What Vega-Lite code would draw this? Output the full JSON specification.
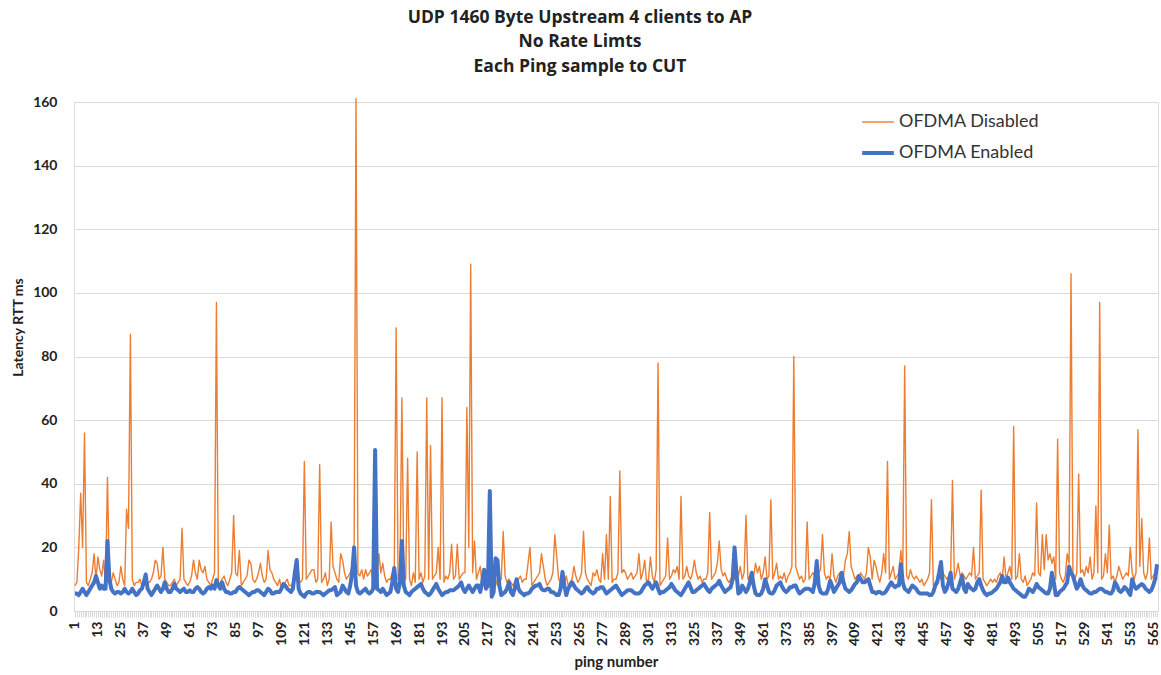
{"$schema":"https://vega.github.io/schema/vega-lite/v6.json","width":1084,"height":509,"autosize":{"type":"none"},"padding":{"left":74,"top":102,"right":3,"bottom":64},"background":"white",
"title":{"text":["UDP 1460 Byte Upstream 4 clients to AP","No Rate Limts","Each Ping sample to CUT"],"font":"Open Sans","fontSize":17.5,"fontWeight":"bold","color":"#222222","lineHeight":24.5,"anchor":"middle","dx":-36,"offset":20},
"data":{"values":[
{"p":1,"d":8,"e":5.5},{"p":2,"d":9,"e":5.5},{"p":3,"d":20,"e":5},{"p":4,"d":37,"e":6},{"p":5,"d":20,"e":7},{"p":6,"d":56,"e":6},{"p":7,"d":9,"e":5},{"p":8,"d":8,"e":6},{"p":9,"d":10,"e":7},{"p":10,"d":12,"e":8},
{"p":11,"d":18,"e":9},{"p":12,"d":10,"e":11},{"p":13,"d":17,"e":9},{"p":14,"d":13,"e":7},{"p":15,"d":11,"e":8},{"p":16,"d":16,"e":7},{"p":17,"d":8,"e":7},{"p":18,"d":42,"e":22},{"p":19,"d":11,"e":10},{"p":20,"d":9,"e":7},
{"p":21,"d":12,"e":6},{"p":22,"d":10,"e":5.5},{"p":23,"d":8,"e":6},{"p":24,"d":9,"e":6},{"p":25,"d":14,"e":5.5},{"p":26,"d":10,"e":6},{"p":27,"d":8,"e":7},{"p":28,"d":32,"e":6},{"p":29,"d":26,"e":5.5},{"p":30,"d":87,"e":6},
{"p":31,"d":10,"e":7},{"p":32,"d":8,"e":6},{"p":33,"d":9,"e":5},{"p":34,"d":9,"e":5.5},{"p":35,"d":10,"e":6.5},{"p":36,"d":8,"e":7},{"p":37,"d":10,"e":9},{"p":38,"d":11,"e":11.5},{"p":39,"d":9,"e":7},{"p":40,"d":9,"e":6},
{"p":41,"d":10,"e":5},{"p":42,"d":12,"e":6},{"p":43,"d":16,"e":7},{"p":44,"d":15,"e":8},{"p":45,"d":10,"e":7},{"p":46,"d":11,"e":6},{"p":47,"d":20,"e":7},{"p":48,"d":10,"e":9},{"p":49,"d":9,"e":7},{"p":50,"d":8,"e":6},
{"p":51,"d":8,"e":6},{"p":52,"d":9,"e":7},{"p":53,"d":10,"e":8.5},{"p":54,"d":8,"e":7},{"p":55,"d":9,"e":6.5},{"p":56,"d":10,"e":6},{"p":57,"d":26,"e":6.5},{"p":58,"d":10,"e":7},{"p":59,"d":9,"e":6},{"p":60,"d":8,"e":6},
{"p":61,"d":9,"e":6.5},{"p":62,"d":11,"e":6},{"p":63,"d":16,"e":6},{"p":64,"d":12,"e":7},{"p":65,"d":10,"e":7.5},{"p":66,"d":16,"e":7},{"p":67,"d":13,"e":6},{"p":68,"d":12,"e":5.5},{"p":69,"d":14,"e":6},{"p":70,"d":10,"e":7},
{"p":71,"d":9,"e":7.5},{"p":72,"d":8,"e":7},{"p":73,"d":10,"e":8},{"p":74,"d":12,"e":7},{"p":75,"d":97,"e":9.7},{"p":76,"d":8,"e":8},{"p":77,"d":9,"e":7},{"p":78,"d":10,"e":9},{"p":79,"d":11,"e":7},{"p":80,"d":9,"e":6},
{"p":81,"d":8,"e":6},{"p":82,"d":10,"e":5.5},{"p":83,"d":12,"e":5.5},{"p":84,"d":30,"e":6},{"p":85,"d":12,"e":6},{"p":86,"d":11,"e":7},{"p":87,"d":19,"e":7.5},{"p":88,"d":8,"e":7},{"p":89,"d":9,"e":6.5},{"p":90,"d":10,"e":6},
{"p":91,"d":11,"e":5.5},{"p":92,"d":16,"e":5},{"p":93,"d":15,"e":5.5},{"p":94,"d":10,"e":6},{"p":95,"d":9,"e":6},{"p":96,"d":10,"e":6.5},{"p":97,"d":12,"e":6.5},{"p":98,"d":15,"e":6},{"p":99,"d":11,"e":5.5},{"p":100,"d":9,"e":5},
{"p":101,"d":10,"e":6},{"p":102,"d":19,"e":7},{"p":103,"d":13,"e":6.5},{"p":104,"d":12,"e":5.5},{"p":105,"d":10,"e":5.5},{"p":106,"d":9,"e":6},{"p":107,"d":8,"e":6},{"p":108,"d":10,"e":6},{"p":109,"d":7,"e":7},{"p":110,"d":8,"e":8.5},
{"p":111,"d":9,"e":8},{"p":112,"d":10,"e":7},{"p":113,"d":8,"e":6.5},{"p":114,"d":8,"e":6},{"p":115,"d":9,"e":7},{"p":116,"d":10,"e":12},{"p":117,"d":10,"e":16},{"p":118,"d":9,"e":7},{"p":119,"d":9,"e":5.5},{"p":120,"d":10,"e":5},
{"p":121,"d":47,"e":4.5},{"p":122,"d":10,"e":5.5},{"p":123,"d":11,"e":6},{"p":124,"d":12,"e":6},{"p":125,"d":13,"e":5.5},{"p":126,"d":13,"e":5.5},{"p":127,"d":9,"e":6},{"p":128,"d":10,"e":6},{"p":129,"d":46,"e":6},{"p":130,"d":9,"e":5.5},
{"p":131,"d":10,"e":5},{"p":132,"d":12,"e":5.5},{"p":133,"d":8,"e":6},{"p":134,"d":10,"e":6.5},{"p":135,"d":28,"e":6.5},{"p":136,"d":14,"e":7},{"p":137,"d":12,"e":7.5},{"p":138,"d":10,"e":5},{"p":139,"d":9,"e":5.5},{"p":140,"d":18,"e":6},
{"p":141,"d":16,"e":8},{"p":142,"d":12,"e":7},{"p":143,"d":10,"e":6},{"p":144,"d":11,"e":5.5},{"p":145,"d":12,"e":8},{"p":146,"d":14,"e":12},{"p":147,"d":16,"e":20},{"p":148,"d":161,"e":8},{"p":149,"d":12,"e":6},{"p":150,"d":11,"e":5.5},
{"p":151,"d":13,"e":6},{"p":152,"d":10,"e":6.5},{"p":153,"d":13,"e":7},{"p":154,"d":11,"e":6},{"p":155,"d":12,"e":5.5},{"p":156,"d":13,"e":6},{"p":157,"d":9,"e":7},{"p":158,"d":10,"e":50.6},{"p":159,"d":12,"e":7},{"p":160,"d":18,"e":6.5},
{"p":161,"d":12,"e":6},{"p":162,"d":15,"e":7},{"p":163,"d":11,"e":6},{"p":164,"d":9,"e":5},{"p":165,"d":10,"e":5.5},{"p":166,"d":10,"e":6},{"p":167,"d":12,"e":9},{"p":168,"d":11,"e":13.5},{"p":169,"d":89,"e":7},{"p":170,"d":10,"e":6},
{"p":171,"d":12,"e":9},{"p":172,"d":67,"e":22},{"p":173,"d":12,"e":8},{"p":174,"d":10,"e":6},{"p":175,"d":48,"e":5.5},{"p":176,"d":10,"e":5},{"p":177,"d":8,"e":6},{"p":178,"d":12,"e":6.5},{"p":179,"d":9,"e":7},{"p":180,"d":50,"e":7.5},
{"p":181,"d":10,"e":8},{"p":182,"d":12,"e":8.5},{"p":183,"d":9,"e":7},{"p":184,"d":11,"e":6},{"p":185,"d":67,"e":5.5},{"p":186,"d":10,"e":5},{"p":187,"d":52,"e":5.5},{"p":188,"d":10,"e":6.5},{"p":189,"d":11,"e":7.5},{"p":190,"d":12,"e":8.5},
{"p":191,"d":20,"e":7},{"p":192,"d":10,"e":6},{"p":193,"d":67,"e":5},{"p":194,"d":9,"e":5.5},{"p":195,"d":11,"e":6},{"p":196,"d":10,"e":6},{"p":197,"d":12,"e":6.5},{"p":198,"d":21,"e":6.5},{"p":199,"d":10,"e":6.5},{"p":200,"d":11,"e":7},
{"p":201,"d":21,"e":7.5},{"p":202,"d":10,"e":8},{"p":203,"d":11,"e":9},{"p":204,"d":12,"e":7},{"p":205,"d":12,"e":6},{"p":206,"d":64,"e":7},{"p":207,"d":20,"e":8},{"p":208,"d":109,"e":7},{"p":209,"d":12,"e":6},{"p":210,"d":22,"e":7},
{"p":211,"d":10,"e":8},{"p":212,"d":12,"e":8},{"p":213,"d":14,"e":6},{"p":214,"d":8,"e":9},{"p":215,"d":9,"e":13},{"p":216,"d":9,"e":7},{"p":217,"d":10,"e":8},{"p":218,"d":8,"e":37.7},{"p":219,"d":9,"e":4.5},{"p":220,"d":9,"e":6},
{"p":221,"d":10,"e":16.6},{"p":222,"d":8,"e":16},{"p":223,"d":9,"e":8},{"p":224,"d":10,"e":5},{"p":225,"d":25,"e":5.5},{"p":226,"d":11,"e":6},{"p":227,"d":9,"e":7},{"p":228,"d":10,"e":9},{"p":229,"d":9,"e":6},{"p":230,"d":8,"e":5},
{"p":231,"d":9,"e":7},{"p":232,"d":10,"e":10},{"p":233,"d":10,"e":7},{"p":234,"d":11,"e":6},{"p":235,"d":9,"e":5.5},{"p":236,"d":10,"e":5},{"p":237,"d":10,"e":5.5},{"p":238,"d":15,"e":5.5},{"p":239,"d":20,"e":6},{"p":240,"d":8,"e":7},
{"p":241,"d":9,"e":7.5},{"p":242,"d":10,"e":8},{"p":243,"d":11,"e":8},{"p":244,"d":12,"e":8.5},{"p":245,"d":18,"e":7},{"p":246,"d":14,"e":6.5},{"p":247,"d":10,"e":6.5},{"p":248,"d":8,"e":7},{"p":249,"d":9,"e":7},{"p":250,"d":10,"e":6},
{"p":251,"d":12,"e":6},{"p":252,"d":24,"e":5.5},{"p":253,"d":17,"e":5},{"p":254,"d":10,"e":5},{"p":255,"d":9,"e":7},{"p":256,"d":10,"e":12.3},{"p":257,"d":9,"e":8},{"p":258,"d":11,"e":5},{"p":259,"d":8,"e":7},{"p":260,"d":9,"e":8},
{"p":261,"d":10,"e":9},{"p":262,"d":14,"e":8},{"p":263,"d":11,"e":7},{"p":264,"d":9,"e":6.5},{"p":265,"d":10,"e":6},{"p":266,"d":12,"e":5.5},{"p":267,"d":25,"e":6},{"p":268,"d":12,"e":7},{"p":269,"d":10,"e":7.5},{"p":270,"d":9,"e":6.5},
{"p":271,"d":8,"e":6},{"p":272,"d":12,"e":5.5},{"p":273,"d":11,"e":6},{"p":274,"d":13,"e":7},{"p":275,"d":10,"e":7},{"p":276,"d":9,"e":7.5},{"p":277,"d":18,"e":7.5},{"p":278,"d":10,"e":6.5},{"p":279,"d":24,"e":5.5},{"p":280,"d":10,"e":6},
{"p":281,"d":36,"e":6.5},{"p":282,"d":9,"e":7},{"p":283,"d":10,"e":7.5},{"p":284,"d":10,"e":8},{"p":285,"d":12,"e":7},{"p":286,"d":44,"e":6},{"p":287,"d":12,"e":5},{"p":288,"d":13,"e":5.5},{"p":289,"d":12,"e":6},{"p":290,"d":10,"e":6.5},
{"p":291,"d":11,"e":6.5},{"p":292,"d":12,"e":6.5},{"p":293,"d":10,"e":6},{"p":294,"d":11,"e":5.5},{"p":295,"d":12,"e":5.5},{"p":296,"d":18,"e":5.5},{"p":297,"d":10,"e":6},{"p":298,"d":12,"e":7},{"p":299,"d":16,"e":8},{"p":300,"d":9,"e":8.5},
{"p":301,"d":10,"e":9},{"p":302,"d":17,"e":8},{"p":303,"d":11,"e":7},{"p":304,"d":9,"e":8},{"p":305,"d":13,"e":9},{"p":306,"d":78,"e":7},{"p":307,"d":8,"e":5.5},{"p":308,"d":9,"e":6},{"p":309,"d":10,"e":6},{"p":310,"d":11,"e":6.5},
{"p":311,"d":23,"e":7},{"p":312,"d":10,"e":7.5},{"p":313,"d":11,"e":8.5},{"p":314,"d":13,"e":7.5},{"p":315,"d":12,"e":6.5},{"p":316,"d":14,"e":6},{"p":317,"d":10,"e":5.5},{"p":318,"d":36,"e":5},{"p":319,"d":10,"e":6},{"p":320,"d":11,"e":7},
{"p":321,"d":14,"e":8},{"p":322,"d":11,"e":9},{"p":323,"d":10,"e":7.5},{"p":324,"d":12,"e":6},{"p":325,"d":16,"e":6},{"p":326,"d":12,"e":6.5},{"p":327,"d":10,"e":7},{"p":328,"d":11,"e":7.5},{"p":329,"d":9,"e":8},{"p":330,"d":10,"e":8.5},
{"p":331,"d":10,"e":7.5},{"p":332,"d":12,"e":6.5},{"p":333,"d":31,"e":6},{"p":334,"d":10,"e":7},{"p":335,"d":11,"e":7.5},{"p":336,"d":12,"e":8},{"p":337,"d":15,"e":8.5},{"p":338,"d":22,"e":9.5},{"p":339,"d":13,"e":8},{"p":340,"d":11,"e":7},
{"p":341,"d":12,"e":6},{"p":342,"d":10,"e":6.5},{"p":343,"d":9,"e":7},{"p":344,"d":10,"e":7.5},{"p":345,"d":11,"e":10},{"p":346,"d":10,"e":20},{"p":347,"d":14,"e":12},{"p":348,"d":11,"e":5.5},{"p":349,"d":14,"e":6},{"p":350,"d":10,"e":8},
{"p":351,"d":12,"e":7},{"p":352,"d":30,"e":6},{"p":353,"d":10,"e":7},{"p":354,"d":11,"e":9},{"p":355,"d":12,"e":12},{"p":356,"d":11,"e":8},{"p":357,"d":15,"e":5.5},{"p":358,"d":12,"e":5},{"p":359,"d":14,"e":5},{"p":360,"d":10,"e":5.5},
{"p":361,"d":12,"e":7},{"p":362,"d":17,"e":10},{"p":363,"d":10,"e":8},{"p":364,"d":11,"e":6},{"p":365,"d":35,"e":5.5},{"p":366,"d":10,"e":5.5},{"p":367,"d":12,"e":6.5},{"p":368,"d":15,"e":8},{"p":369,"d":10,"e":8.5},{"p":370,"d":11,"e":9},
{"p":371,"d":10,"e":7.5},{"p":372,"d":12,"e":6.5},{"p":373,"d":9,"e":6},{"p":374,"d":11,"e":6.5},{"p":375,"d":12,"e":7.5},{"p":376,"d":14,"e":7.5},{"p":377,"d":80,"e":8},{"p":378,"d":14,"e":8},{"p":379,"d":12,"e":6.5},{"p":380,"d":10,"e":5.5},
{"p":381,"d":11,"e":6},{"p":382,"d":9,"e":6.5},{"p":383,"d":10,"e":7},{"p":384,"d":28,"e":7},{"p":385,"d":10,"e":7},{"p":386,"d":11,"e":6.5},{"p":387,"d":12,"e":6},{"p":388,"d":11,"e":9},{"p":389,"d":10,"e":15.7},{"p":390,"d":12,"e":8},
{"p":391,"d":13,"e":6},{"p":392,"d":24,"e":5.5},{"p":393,"d":12,"e":5.5},{"p":394,"d":10,"e":5.5},{"p":395,"d":11,"e":7},{"p":396,"d":10,"e":9.5},{"p":397,"d":18,"e":8},{"p":398,"d":11,"e":6},{"p":399,"d":9,"e":7},{"p":400,"d":11,"e":8},
{"p":401,"d":12,"e":9},{"p":402,"d":10,"e":12},{"p":403,"d":11,"e":9},{"p":404,"d":16,"e":7},{"p":405,"d":18,"e":6.5},{"p":406,"d":25,"e":6},{"p":407,"d":14,"e":6.5},{"p":408,"d":12,"e":7.5},{"p":409,"d":10,"e":8.5},{"p":410,"d":11,"e":9},
{"p":411,"d":10,"e":11},{"p":412,"d":12,"e":10},{"p":413,"d":11,"e":9},{"p":414,"d":10,"e":9},{"p":415,"d":12,"e":9.5},{"p":416,"d":20,"e":10},{"p":417,"d":17,"e":8},{"p":418,"d":10,"e":6},{"p":419,"d":16,"e":6},{"p":420,"d":14,"e":5.5},
{"p":421,"d":11,"e":6},{"p":422,"d":9,"e":6},{"p":423,"d":12,"e":5.5},{"p":424,"d":18,"e":5.5},{"p":425,"d":12,"e":6},{"p":426,"d":47,"e":7},{"p":427,"d":10,"e":8},{"p":428,"d":12,"e":9},{"p":429,"d":14,"e":8},{"p":430,"d":10,"e":7.5},
{"p":431,"d":11,"e":8},{"p":432,"d":12,"e":8},{"p":433,"d":19,"e":14.7},{"p":434,"d":12,"e":9},{"p":435,"d":77,"e":7},{"p":436,"d":11,"e":6.5},{"p":437,"d":10,"e":6},{"p":438,"d":13,"e":7},{"p":439,"d":11,"e":8},{"p":440,"d":10,"e":7.5},
{"p":441,"d":11,"e":7},{"p":442,"d":10,"e":6},{"p":443,"d":9,"e":5.5},{"p":444,"d":10,"e":5.5},{"p":445,"d":8,"e":5.5},{"p":446,"d":9,"e":5.5},{"p":447,"d":10,"e":5.5},{"p":448,"d":12,"e":5},{"p":449,"d":35,"e":5},{"p":450,"d":8,"e":6},
{"p":451,"d":9,"e":8},{"p":452,"d":10,"e":9},{"p":453,"d":11,"e":12},{"p":454,"d":10,"e":15.4},{"p":455,"d":12,"e":8},{"p":456,"d":11,"e":6},{"p":457,"d":10,"e":7},{"p":458,"d":11,"e":9},{"p":459,"d":10,"e":12},{"p":460,"d":41,"e":7},
{"p":461,"d":10,"e":6.5},{"p":462,"d":12,"e":6},{"p":463,"d":15,"e":7},{"p":464,"d":11,"e":9},{"p":465,"d":12,"e":11},{"p":466,"d":11,"e":7},{"p":467,"d":10,"e":6},{"p":468,"d":11,"e":8.5},{"p":469,"d":12,"e":7.5},{"p":470,"d":11,"e":7},
{"p":471,"d":20,"e":6.5},{"p":472,"d":10,"e":7},{"p":473,"d":11,"e":9},{"p":474,"d":12,"e":10},{"p":475,"d":38,"e":8},{"p":476,"d":10,"e":6.5},{"p":477,"d":9,"e":5.5},{"p":478,"d":8,"e":5},{"p":479,"d":9,"e":5.5},{"p":480,"d":10,"e":5.5},
{"p":481,"d":9,"e":6},{"p":482,"d":10,"e":6.5},{"p":483,"d":9,"e":7},{"p":484,"d":11,"e":8},{"p":485,"d":12,"e":9},{"p":486,"d":10,"e":11},{"p":487,"d":17,"e":9},{"p":488,"d":10,"e":9},{"p":489,"d":12,"e":10.5},{"p":490,"d":14,"e":9},
{"p":491,"d":10,"e":8},{"p":492,"d":58,"e":7},{"p":493,"d":10,"e":6.5},{"p":494,"d":11,"e":6},{"p":495,"d":18,"e":5.5},{"p":496,"d":10,"e":5},{"p":497,"d":9,"e":4.5},{"p":498,"d":11,"e":4.5},{"p":499,"d":8,"e":5.5},{"p":500,"d":9,"e":7},
{"p":501,"d":10,"e":6.5},{"p":502,"d":12,"e":6},{"p":503,"d":11,"e":7},{"p":504,"d":34,"e":8.5},{"p":505,"d":12,"e":7.5},{"p":506,"d":11,"e":7},{"p":507,"d":24,"e":6.5},{"p":508,"d":13,"e":6},{"p":509,"d":24,"e":5.5},{"p":510,"d":16,"e":5.5},
{"p":511,"d":18,"e":7},{"p":512,"d":15,"e":12},{"p":513,"d":17,"e":9},{"p":514,"d":10,"e":5},{"p":515,"d":54,"e":5},{"p":516,"d":12,"e":6},{"p":517,"d":10,"e":6.5},{"p":518,"d":9,"e":7},{"p":519,"d":11,"e":8},{"p":520,"d":18,"e":9},
{"p":521,"d":15,"e":14},{"p":522,"d":106,"e":12},{"p":523,"d":12,"e":11},{"p":524,"d":10,"e":9},{"p":525,"d":12,"e":7},{"p":526,"d":43,"e":8},{"p":527,"d":12,"e":10},{"p":528,"d":13,"e":8},{"p":529,"d":11,"e":7},{"p":530,"d":14,"e":6.5},
{"p":531,"d":12,"e":6},{"p":532,"d":17,"e":5.5},{"p":533,"d":10,"e":5.5},{"p":534,"d":12,"e":6},{"p":535,"d":33,"e":6},{"p":536,"d":12,"e":6.5},{"p":537,"d":97,"e":7},{"p":538,"d":10,"e":7},{"p":539,"d":11,"e":6.5},{"p":540,"d":18,"e":6},
{"p":541,"d":12,"e":6},{"p":542,"d":27,"e":5.5},{"p":543,"d":10,"e":5.5},{"p":544,"d":11,"e":6.5},{"p":545,"d":9,"e":9},{"p":546,"d":11,"e":8},{"p":547,"d":14,"e":6.5},{"p":548,"d":12,"e":6},{"p":549,"d":10,"e":6.5},{"p":550,"d":11,"e":7.5},
{"p":551,"d":12,"e":7},{"p":552,"d":11,"e":6},{"p":553,"d":20,"e":5},{"p":554,"d":12,"e":10},{"p":555,"d":10,"e":8},{"p":556,"d":12,"e":7},{"p":557,"d":57,"e":7.5},{"p":558,"d":14,"e":8},{"p":559,"d":29,"e":8.5},{"p":560,"d":12,"e":8},
{"p":561,"d":10,"e":7},{"p":562,"d":12,"e":6.5},{"p":563,"d":23,"e":6},{"p":564,"d":10,"e":6.5},{"p":565,"d":11,"e":8},{"p":566,"d":12,"e":10},{"p":567,"d":10,"e":14.7}
]},
"transform":[{"fold":["d","e"],"as":["s","v"]}],
"mark":{"type":"line","strokeJoin":"round"},
"encoding":{
"x":{"field":"p","type":"ordinal","sort":"ascending","scale":{"type":"point","padding":0.5},
"axis":{"labelExpr":"(datum.value - 1) % 12 == 0 ? datum.value : ''","labelOverlap":false,"labelAngle":-90,"labelFont":"Lato","labelFontSize":14,"labelFontWeight":"bold","labelColor":"#222222","labelPadding":4,"tickColor":"#d9d9d9","tickSize":6,"domainColor":"#d9d9d9","grid":false,"title":"ping number","titleFont":"Lato","titleFontSize":15,"titleFontWeight":"bold","titleColor":"#222222","titlePadding":9}},
"y":{"field":"v","type":"quantitative","scale":{"domain":[0,160],"nice":false},
"axis":{"values":[0,20,40,60,80,100,120,140,160],"ticks":false,"domain":false,"gridColor":"#d9d9d9","gridWidth":1,"labelFont":"Lato","labelFontSize":14,"labelFontWeight":"bold","labelColor":"#222222","labelPadding":17,"title":"Latency RTT ms","titleFont":"Lato","titleFontSize":14,"titleFontWeight":"bold","titleColor":"#222222","titlePadding":7,"titleY":225}},
"color":{"field":"s","type":"nominal","scale":{"domain":["d","e"],"range":["#ED7D31","#4472C4"]},
"legend":{"orient":"none","legendX":786,"legendY":3,"title":null,"symbolType":"stroke","symbolSize":1000,"symbolStrokeWidth":2,"labelFont":"Lato","labelFontSize":18,"labelColor":"#333333","rowPadding":4,"labelOffset":3,
"labelExpr":"datum.value == 'd' ? 'OFDMA Disabled' : 'OFDMA Enabled'",
"encode":{"symbols":{"update":{"strokeWidth":{"signal":"datum.value == 'd' ? 1.5 : 4"}}}}}},
"strokeWidth":{"field":"s","type":"nominal","scale":{"domain":["d","e"],"range":[1.4,4]},"legend":null}
}}
